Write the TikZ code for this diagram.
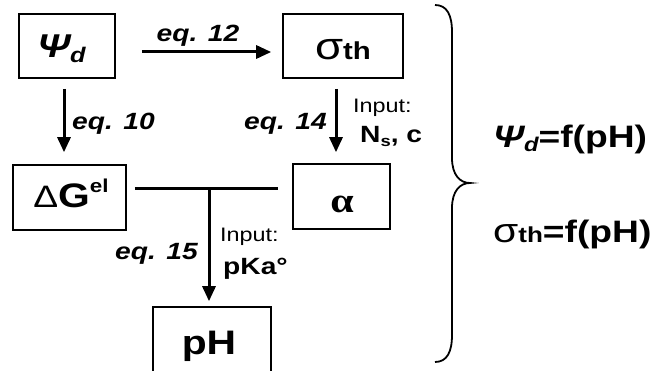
\documentclass[tikz,border=0pt]{standalone}
\usepackage{fontspec}
\usepackage{graphicx}
\setmainfont{Liberation Sans}
\newfontfamily\serifgr{Liberation Serif}
\usetikzlibrary{arrows.meta,calc}
\newcommand\sbx[3]{\raisebox{#1}{\scalebox{#2}{#3}}}
\newcommand\sx[1]{\scalebox{1.2}[1]{#1}}
\newcommand\fs[1]{\fontsize{#1}{#1}\selectfont}
\begin{document}
\begin{tikzpicture}[x=1pt,y=-1pt,
  box/.style={draw, line width=1.6pt, inner sep=0pt},
  arr/.style={line width=3pt, -{Triangle[length=15pt,width=13pt]}},
  bar/.style={line width=3pt},
  eqlab/.style={inner sep=0pt, font=\fs{23.5}\bfseries\itshape},
  inlab/.style={inner sep=0pt, anchor=base west, font=\fs{19.5}},
  inval/.style={inner sep=0pt, anchor=base west, font=\fs{23.5}\bfseries},
  boxtxt/.style={inner sep=0pt, anchor=base},
  rtxt/.style={inner sep=0pt, anchor=base west, font=\fs{31}\bfseries},
  bracestyle/.style={line width=1.8pt}]
\fill[white] (0,0) rectangle (654,371);
\clip (0,0) rectangle (654,371);
% boxes
\node[box, minimum width=96pt, minimum height=64pt] (psi) at (67,46) {};
\node[box, minimum width=120pt, minimum height=64pt] (sig) at (343,46) {};
\node[box, minimum width=113pt, minimum height=65pt] (dg) at (69.5,197.5) {};
\node[box, minimum width=97pt, minimum height=65pt] (alp) at (341.5,196.5) {};
\node[box, minimum width=118pt, minimum height=72pt] (ph) at (212,343) {};
% box texts
\node[boxtxt, font=\fs{33}\bfseries\itshape] (psit) at (61.5,58) {\sx{Ψ\sbx{-5pt}{0.64}{d}}};
\node[boxtxt, font=\fs{35}] (sigt) at (343,60) {\sx{\fs{38}σ\sbx{0pt}{0.7}{\fs{35}\bfseries th}}};
\node[boxtxt, font=\fs{34}] (dgt) at (71,208) {\sx{{\fs{31}Δ}\bfseries G\sbx{15pt}{0.55}{el}}};
\node[boxtxt, font=\fs{35}\serifgr\bfseries] (alpt) at (342,213) {\sx{α}};
\node[boxtxt, font=\fs{34}\bfseries] (pht) at (209,355) {\sx{pH}};
% arrows
\coordinate (a12s) at ([shift={(26,6)}]psi.east);
\coordinate (a12e) at ([shift={(-11,6)}]sig.west);
\draw[arr] (a12s) -- (a12e);
\coordinate (a10s) at ([shift={(-3,10)}]psi.south);
\coordinate (a10e) at ([shift={(-5.5,-12)}]dg.north);
\draw[arr] (a10s) -- (a10e);
\coordinate (a14s) at ([shift={(-7,10)}]sig.south);
\coordinate (a14e) at ([shift={(-5.5,-11)}]alp.north);
\draw[arr] (a14s) -- (a14e);
\coordinate (bs) at ([shift={(8,-8.5)}]dg.east);
\coordinate (be) at ([shift={(-14,-7.5)}]alp.west);
\draw[bar] (bs) -- (be);
\coordinate (j) at (209,189);
\coordinate (a15e) at ([shift={(-3,-5)}]ph.north);
\draw[arr] (j) -- (a15e);
% labels
\node[eqlab, anchor=base] (l12) at (198,42) {\sx{eq. 12}};
\node[eqlab, anchor=base west] (l10) at (72,130) {\sx{eq. 10}};
\node[eqlab, anchor=base east] (l14) at (327,130) {\sx{eq. 14}};
\node[eqlab, anchor=base east] (l15) at (198,260) {\sx{eq. 15}};
\node[inlab] (in1) at (353,113) {\sx{Input:}};
\node[inval] (nsc) at (360,143) {\sx{N\sbx{-4pt}{0.65}{s}, c}};
\node[inlab] (in2) at (220,242) {\sx{Input:}};
\node[inval] (pka) at (223,275) {\sx{pKa°}};
% brace
\draw[bracestyle] (435,5) .. controls (447,5) and (452,15) .. (452,32)
  -- (452,158) .. controls (452,175) and (460,183) .. (470,183)
  .. controls (460,183) and (452,191) .. (452,208)
  -- (452,335) .. controls (452,352) and (447,362) .. (435,362);
% right texts
\node[rtxt] (r1) at (493,148) {\sx{{\itshape Ψ\sbx{-4pt}{0.64}{d}}=f(pH)}};
\node[rtxt] (r2) at (493,243) {\sx{{\mdseries\fs{34}σ}\sbx{0pt}{0.7}{th}=f(pH)}};
\end{tikzpicture}
\end{document}
